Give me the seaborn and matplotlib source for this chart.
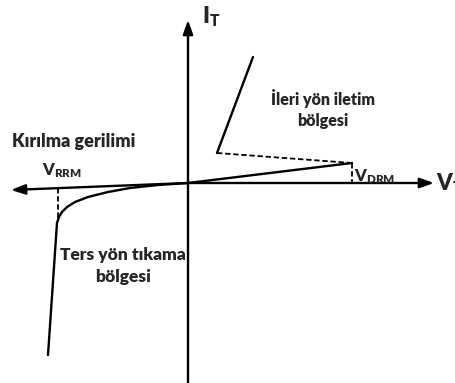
import matplotlib
matplotlib.use("Agg")
import matplotlib.pyplot as plt
import seaborn as sns
import pandas as pd

sns.set_theme(style="white")
plt.rcParams["font.family"] = ["Lato", "DejaVu Sans"]
plt.rcParams["font.weight"] = "heavy"
plt.rcParams["mathtext.fontset"] = "custom"
plt.rcParams["mathtext.rm"] = "Lato:heavy"
plt.rcParams["mathtext.bf"] = "Lato:heavy"
plt.rcParams["mathtext.it"] = "Lato:heavy"

# Thyristor characteristic, voltage (V_T) and current (I_T) in drawing units
fwd_block_v = [0, 164]
fwd_block_i = [0, 20]

fwd_cond_v = [29, 65]
fwd_cond_i = [30, 126]

breakover_v = [164, 29]
breakover_i = [20, 30]

rev_v = [0, -30, -58, -80, -100, -113, -121, -126, -129, -131, -140]
rev_i = [0, -2, -5, -9, -14, -19, -24, -29, -34, -40, -172]

vdrm_v = [164, 164]
vdrm_i = [20, 0]

vrrm_v = [-130, -130]
vrrm_i = [-5, -35]

labels = {
    "breakdown": "Kırılma gerilimi",
    "forward": "İleri yön iletim\nbölgesi",
    "reverse": "Ters yön tıkama\nbölgesi",
}

fig = plt.figure(figsize=(4.55, 3.83), dpi=100)
ax = fig.add_axes([0, 0, 1, 1])
ax.set_xlim(-188, 267)
ax.set_ylim(-200, 183)
ax.axis("off")

solid = dict(color="black", linewidth=1.7, sort=False, estimator=None, legend=False)
dashed = dict(color="black", linewidth=1.3, sort=False, estimator=None, legend=False,
              linestyle=(0, (3, 1.5)))

sns.lineplot(data=pd.DataFrame({"v": fwd_block_v, "i": fwd_block_i}), x="v", y="i", ax=ax, **solid)
sns.lineplot(data=pd.DataFrame({"v": fwd_cond_v, "i": fwd_cond_i}), x="v", y="i", ax=ax, **solid)
sns.lineplot(data=pd.DataFrame({"v": rev_v, "i": rev_i}), x="v", y="i", ax=ax, **solid)
sns.lineplot(data=pd.DataFrame({"v": breakover_v, "i": breakover_i}), x="v", y="i", ax=ax, **dashed)
sns.lineplot(data=pd.DataFrame({"v": vdrm_v, "i": vdrm_i}), x="v", y="i", ax=ax, **dashed)
sns.lineplot(data=pd.DataFrame({"v": vrrm_v, "i": vrrm_i}), x="v", y="i", ax=ax, **dashed)

# Axes with arrowheads
arrow = dict(arrowstyle="-|>,head_length=0.7,head_width=0.25", color="black", lw=1.7,
             shrinkA=0, shrinkB=0)
ax.annotate("", xy=(246, 0), xytext=(0, 0), arrowprops=arrow)
ax.annotate("", xy=(-177, -7), xytext=(0, 0), arrowprops=arrow)
ax.annotate("", xy=(0, 163), xytext=(0, -200), arrowprops=arrow)

ax.text(14, 166, r"$\mathregular{I_T}$", fontsize=16, ha="left", va="center")
ax.text(248, -1, r"$\mathregular{V_T}$", fontsize=16, ha="left", va="center")
ax.text(-146, 12, r"$\mathregular{V_{RRM}}$", fontsize=12, ha="left", va="center")
ax.text(166, 6, r"$\mathregular{V_{DRM}}$", fontsize=12, ha="left", va="center")

ax.text(-176, 41, labels["breakdown"], fontsize=13, ha="left", va="center")
ax.text(135, 74, labels["forward"], fontsize=11.5, ha="center", va="center", linespacing=1.4)
ax.text(-65, -83, labels["reverse"], fontsize=12.5, ha="center", va="center", linespacing=1.4)

fig.savefig("out.png", dpi=100, facecolor="white")
